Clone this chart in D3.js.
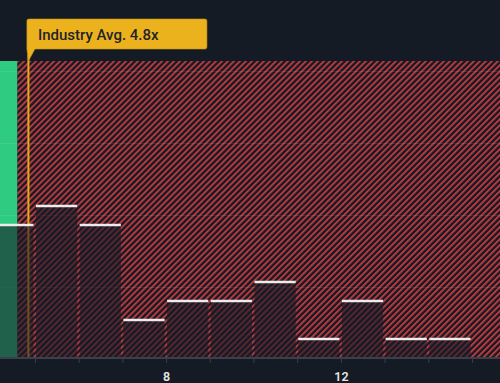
<!DOCTYPE html>
<html>
<head>
<meta charset="utf-8">
<script src="https://cdn.jsdelivr.net/npm/d3@7"></script>
<style>
html,body{margin:0;padding:0;background:#151b24;}
svg{display:block;}
</style>
</head>
<body>
<svg id="chart" width="500" height="383"></svg>
<script>
// ---- data ----
const binStarts = [4, 5, 6, 7, 8, 9, 10, 11, 12, 13, 14];
const binCounts = [7, 8, 7, 2, 3, 3, 4, 1, 3, 1, 1];
const companyValue = 4.6;
const industryAvg = 4.85;
const industryLabel = "Industry Avg. 4.8x";
const xTickValues = [5, 6, 7, 8, 9, 10, 11, 12, 13, 14, 15];
const xTickLabels = ["", "", "", "8", "", "", "", "12", "", "", ""];
const gridValues = [3.76, 7.53, 11.29, 15.08];
const xDomain = [4.2, 15.64];
const yDomain = [0, 15.63];

// ---- layout ----
const W = 500, H = 383;
const plotTop = 61, plotBottom = 358;
const svg = d3.select("#chart");

const x = d3.scaleLinear().domain(xDomain).range([0, W]);
const y = d3.scaleLinear().domain(yDomain).range([plotBottom, plotTop]);

const defs = svg.append("defs");
const pat = defs.append("pattern")
  .attr("id", "hatch")
  .attr("patternUnits", "userSpaceOnUse")
  .attr("width", 4.24).attr("height", 4.24)
  .attr("patternTransform", "rotate(45)");
pat.append("rect").attr("width", 4.24).attr("height", 4.24).attr("fill", "#151b24");
pat.append("rect").attr("x", 0).attr("width", 1.9).attr("height", 4.24).attr("fill", "#c0393e");

// green company column
svg.append("rect")
  .attr("x", x(xDomain[0])).attr("y", plotTop)
  .attr("width", x(companyValue) - x(xDomain[0]))
  .attr("height", plotBottom - plotTop)
  .attr("fill", "#2ecb80");

// hatched region
svg.append("rect")
  .attr("x", x(companyValue)).attr("y", plotTop)
  .attr("width", W - x(companyValue))
  .attr("height", plotBottom - plotTop)
  .attr("fill", "url(#hatch)");

// grid lines
svg.append("g").selectAll("line").data(gridValues).join("line")
  .attr("x1", 0).attr("x2", W)
  .attr("y1", d => Math.round(y(d)) + 0.5).attr("y2", d => Math.round(y(d)) + 0.5)
  .attr("stroke", "#ffffff").attr("stroke-opacity", 0.09).attr("stroke-width", 1);

// industry average line
svg.append("line")
  .attr("x1", x(industryAvg)).attr("x2", x(industryAvg))
  .attr("y1", 55).attr("y2", plotBottom)
  .attr("stroke", "#eaa91c").attr("stroke-width", 2);

// histogram bars
const bins = binStarts.map((s, i) => ({ s, e: s + 1, c: binCounts[i] }));
const bw = x(5) - x(4);
svg.append("g").selectAll("rect").data(bins).join("rect")
  .attr("x", d => x(d.s) + 1)
  .attr("width", bw - 2.5)
  .attr("y", d => y(d.c))
  .attr("height", d => plotBottom - y(d.c))
  .attr("fill", "#161b26").attr("fill-opacity", 0.6);

svg.append("g").selectAll("line").data(bins).join("line")
  .attr("x1", d => Math.max(0, x(d.s) + 1))
  .attr("x2", d => x(d.s) + bw - 1.5)
  .attr("y1", d => y(d.c)).attr("y2", d => y(d.c))
  .attr("stroke", "#ececec").attr("stroke-width", 2.5);

// x axis
const axis = d3.axisBottom(x)
  .tickValues(xTickValues)
  .tickSize(5)
  .tickPadding(9)
  .tickFormat((d, i) => xTickLabels[i]);
const gx = svg.append("g").attr("transform", `translate(0,${plotBottom})`).call(axis);
gx.select(".domain").attr("stroke", "#3a3f48").attr("stroke-width", 2).attr("d", `M0,0H${W}`);
gx.selectAll(".tick line").attr("stroke", "#3a3f48");
gx.selectAll(".tick text")
  .attr("fill", "#e6e6e6")
  .attr("font-family", "Roboto, sans-serif")
  .attr("font-size", 12.5)
  .attr("font-weight", 600);

// label box
const lbl = svg.append("g");
const bx = x(industryAvg) - 1.5, by = 19, bwid = 180, bh = 30;
lbl.append("path")
  .attr("d", `M${bx},${by + 2} Q${bx},${by} ${bx + 2},${by} H${bx + bwid - 2} Q${bx + bwid},${by} ${bx + bwid},${by + 2} V${by + bh - 2} Q${bx + bwid},${by + bh} ${bx + bwid - 2},${by + bh} H${bx + 8} L${bx + 1.5},${by + bh + 12} L${bx},${by + bh} Z`)
  .attr("fill", "#ecb21e")
  .attr("stroke", "#c9951a").attr("stroke-width", 0.6);
lbl.append("text")
  .attr("x", bx + 11).attr("y", by + 20.5)
  .attr("fill", "#1f242b")
  .attr("font-family", "Roboto, sans-serif")
  .attr("font-size", 15)
  .attr("font-weight", 500)
  .text(industryLabel);
</script>
</body>
</html>
